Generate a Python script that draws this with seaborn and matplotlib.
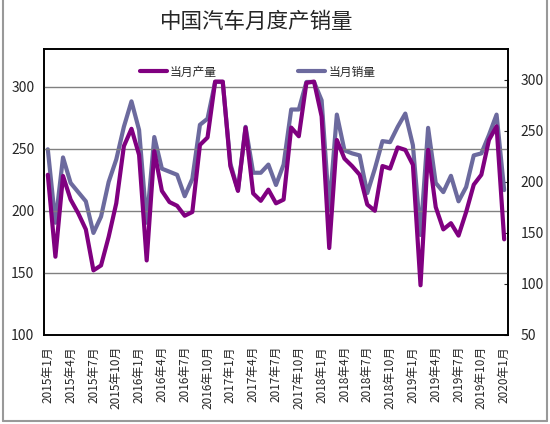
import numpy as np
import pandas as pd
import matplotlib
matplotlib.use("Agg")
import matplotlib.pyplot as plt
from matplotlib.lines import Line2D
import seaborn as sns

# monthly output / sales, Jan 2015 - Jan 2020
production = [229, 163, 228, 209, 198, 185, 152, 156, 179, 206, 252, 266,
              245, 160, 248, 216, 207, 204, 196, 199, 253, 259, 304, 304,
              236, 216, 267, 214, 208, 217, 206, 209, 267, 260, 303, 304,
              276, 170, 257, 242, 236, 229, 205, 200, 236, 234, 251, 249,
              237, 140, 249, 203, 185, 190, 180, 199, 221, 229, 257, 268,
              177]
sales = [232, 160, 224, 199, 190, 181, 150, 166, 200, 222, 254, 279,
         251, 160, 244, 213, 210, 207, 186, 203, 256, 262, 298, 298,
         218, 192, 254, 209, 209, 217, 197, 217, 271, 271, 298, 298,
         280, 173, 266, 231, 228, 226, 189, 213, 240, 239, 254, 267,
         236, 148, 253, 199, 190, 206, 181, 195, 226, 228, 246, 266,
         192]
months = [f"{2015 + i // 12}年{i % 12 + 1}月" for i in range(61)]

left_ticks = [100, 150, 200, 250, 300]
right_ticks = [50, 100, 150, 200, 250, 300]

df = pd.DataFrame({"idx": range(61), "month": months,
                   "production": production, "sales": sales})

sns.set_style("white")
plt.rcParams['font.family'] = ['Noto Sans CJK SC', 'DejaVu Sans']

purple = "#800080"
slate = "#6C6A9E"

fig = plt.figure(figsize=(5.5, 4.24), dpi=100)
ax = fig.add_axes([0.08, 0.21, 0.8436, 0.6737])
ax2 = ax.twinx()

sns.lineplot(data=df, x="idx", y="production", ax=ax, color=purple, lw=3.0, zorder=3)
sns.lineplot(data=df, x="idx", y="sales", ax=ax2, color=slate, lw=3.0, zorder=2)
ax.set_zorder(ax2.get_zorder() + 1)
ax.patch.set_visible(False)

ax.set_xlim(-0.5, 60.5)
ax.set_ylim(100, 330)
ax2.set_ylim(50, 330)

ax.set_yticks(left_ticks)
ax2.set_yticks(right_ticks)
ax.yaxis.grid(True, color="#808080", lw=1)
ax.set_axisbelow(True)
ax.tick_params(axis="y", length=0, labelsize=10, pad=7)
ax2.tick_params(axis="y", direction="in", length=3, labelsize=10, pad=9)

ax.set_xticks(np.arange(0, 61, 3))
ax.set_xticklabels(months[::3], rotation=90, fontsize=8.5, va="top", ha="center")
ax.set_xticks(np.arange(-0.5, 61, 1), minor=True)
ax.tick_params(axis="x", which="major", length=0, pad=8)
ax.tick_params(axis="x", which="minor", direction="in", length=3, width=0.8)

ax.set_xlabel("")
ax.set_ylabel("")
ax2.set_ylabel("")
for a in (ax, ax2):
    for s in a.spines.values():
        s.set_color("black")
        s.set_linewidth(1.2)

fig.text(0.466, 0.949, "中国汽车月度产销量", fontsize=15.5, ha="center", va="center")

handles = [Line2D([], [], color=purple, lw=3.0), Line2D([], [], color=slate, lw=3.0)]
fig.legend(handles, ["当月产量", "当月销量"], loc="center", ncol=2,
           bbox_to_anchor=(0.468, 0.83), frameon=False, fontsize=8.5,
           handlelength=2.3, handletextpad=0.25, columnspacing=6.9)

# outer chart border
fig.add_artist(Line2D([0.006, 0.006], [0.007, 1], color="#999999", lw=1.5, transform=fig.transFigure))
fig.add_artist(Line2D([0.994, 0.994], [0.007, 1], color="#999999", lw=1.5, transform=fig.transFigure))
fig.add_artist(Line2D([0.006, 0.994], [0.007, 0.007], color="#999999", lw=1.5, transform=fig.transFigure))

fig.savefig("out.png", dpi=100)
